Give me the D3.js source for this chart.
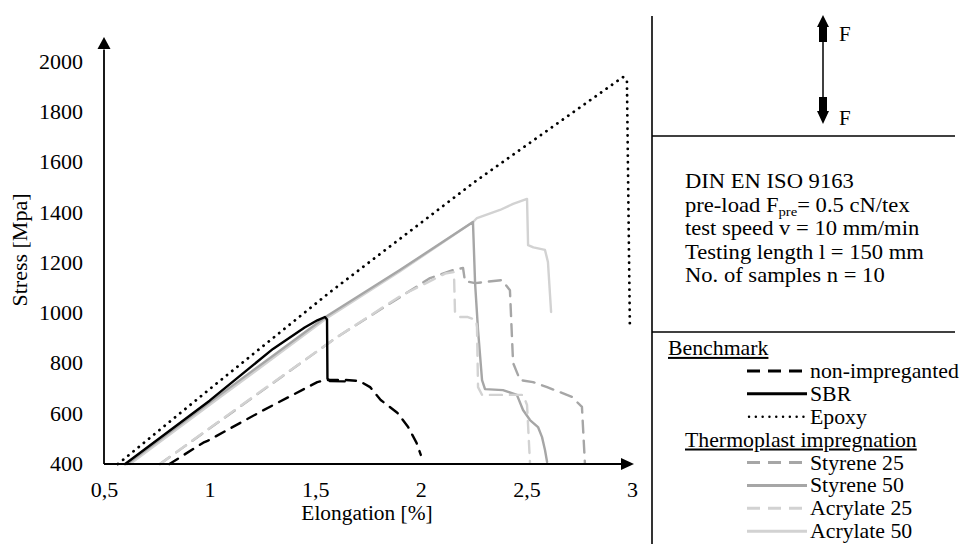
<!DOCTYPE html>
<html><head><meta charset="utf-8">
<script src="https://cdn.jsdelivr.net/npm/d3@7"></script>
<style>
html,body{margin:0;padding:0;background:#fff;}
svg{display:block;font-family:"Liberation Serif","Times New Roman",serif;}
</style></head>
<body>
<svg id="chart" width="974" height="544"></svg>
<script>
// ---------- data ----------
const xTicks = [0.5, 1, 1.5, 2, 2.5, 3];
const xTickLabels = ["0,5", "1", "1,5", "2", "2,5", "3"];
const yTicks = [400, 600, 800, 1000, 1200, 1400, 1600, 1800, 2000];

const nonImpregnated = [[0.81,400],[0.97,485],[0.99,492],[1.25,612],[1.51,726],[1.55,734],[1.64,735],[1.71,730],[1.76,706],[1.81,655],[1.89,603],[1.94,547],[1.98,484],[2.0,436]];
const sbr = [[0.60,400],[1.0,652],[1.3,858],[1.45,943],[1.51,972],[1.546,985],[1.556,975],[1.558,740],[1.57,730],[1.64,729]];
const epoxy = [[0.566,400],[1.0,698],[1.57,1084],[2.257,1524],[2.957,1940],[2.976,1928],[2.99,941]];
const styrene25 = [[0.765,400],[1.2,662],[1.603,905],[2.044,1140],[2.153,1172],[2.20,1180],[2.209,1128],[2.257,1120],[2.384,1132],[2.422,1092],[2.437,802],[2.47,734],[2.531,726],[2.598,706],[2.716,667],[2.763,627],[2.777,404]];
const styrene50 = [[0.609,400],[1.049,675],[1.556,989],[1.901,1172],[2.247,1363],[2.257,1120],[2.271,933],[2.29,734],[2.304,698],[2.389,694],[2.455,675],[2.484,615],[2.517,575],[2.555,547],[2.574,507],[2.588,456],[2.598,408]];
const acrylate25 = [[0.765,400],[1.2,664],[1.603,905],[1.902,1068],[2.115,1158],[2.157,1164],[2.162,1001],[2.186,985],[2.223,985],[2.261,973],[2.266,945],[2.271,706],[2.29,675],[2.484,675],[2.503,635],[2.517,404]];
const acrylate50 = [[0.623,400],[1.06,672],[1.556,981],[1.90,1166],[2.247,1363],[2.266,1379],[2.375,1411],[2.437,1435],[2.503,1455],[2.508,1271],[2.533,1262],[2.588,1252],[2.602,1204],[2.617,1005]];

const seriesNames = ["non-impreganted","SBR","Epoxy","Styrene 25","Styrene 50","Acrylate 25","Acrylate 50"];
const seriesData = [nonImpregnated, sbr, epoxy, styrene25, styrene50, acrylate25, acrylate50];
const seriesColors = ["#000000","#000000","#000000","#a6a6a6","#a6a6a6","#d2d2d2","#d2d2d2"];
const seriesDash = ["10,8","", "0.1,6.6", "12,8", "", "12,8", ""];
const infoLines = ["DIN EN ISO 9163", "pre-load F|pre|= 0.5 cN/tex", "test speed v = 10 mm/min", "Testing length l = 150 mm", "No. of samples n = 10"];

// ---------- layout ----------
const svg = d3.select("#chart");
const x = d3.scaleLinear().domain([0.5, 3]).range([104, 632]);
const y = d3.scaleLinear().domain([400, 2000]).range([464, 62]);

function addText(px, py, str, size, sx, anchor, rot) {
  const g = svg.append("g").attr("transform", `translate(${px},${py})` + (rot ? ` rotate(${rot})` : "") + ` scale(${sx},1)`);
  return g.append("text").attr("font-size", size).attr("text-anchor", anchor || "start").text(str);
}

// axes labels
const tickSx = 1.1;
const yAxis = d3.axisLeft(y).tickValues(yTicks).tickSize(0).tickPadding(21 / tickSx).tickFormat(d3.format("d"));
const gy = svg.append("g").attr("transform", `translate(${x(0.5)},0)`).call(yAxis);
gy.select(".domain").remove();
gy.selectAll("text").attr("font-family", "Liberation Serif").attr("font-size", 20).attr("fill", "#000")
  .attr("transform", `scale(${tickSx},1)`);

const xAxis = d3.axisBottom(x).tickValues(xTicks).tickSize(0).tickPadding(19).tickFormat((d, i) => xTickLabels[i]);
const gx = svg.append("g").attr("transform", `translate(0,${y(400)})`).call(xAxis);
gx.select(".domain").remove();
gx.selectAll("text").attr("font-family", "Liberation Serif").attr("font-size", 20).attr("fill", "#000")
  .attr("transform", `scale(${tickSx},1)`);

// curves
const lineLin = d3.line().x(d => x(d[0])).y(d => y(d[1]));
const drawOrder = [6, 4, 3, 5, 2, 0, 1];
drawOrder.forEach(i => {
  svg.append("path")
    .attr("d", lineLin(seriesData[i]))
    .attr("fill", "none")
    .attr("stroke", seriesColors[i])
    .attr("stroke-width", i === 2 ? 2.8 : 2.4)
    .attr("stroke-linecap", "round")
    .attr("stroke-linejoin", "round")
    .attr("stroke-dasharray", seriesDash[i] || null);
});

// axis lines with arrows
svg.append("line").attr("x1", x(0.5)).attr("y1", y(400)).attr("x2", x(0.5)).attr("y2", y(2050))
  .attr("stroke", "#000").attr("stroke-width", 1.8);
svg.append("path").attr("d", `M${x(0.5)},${y(2100)} L${x(0.5)-6.5},${y(2100)+12} L${x(0.5)+6.5},${y(2100)+12} Z`).attr("fill", "#000");
svg.append("line").attr("x1", x(0.5)).attr("y1", y(400)).attr("x2", x(2.95)).attr("y2", y(400))
  .attr("stroke", "#000").attr("stroke-width", 1.8);
svg.append("path").attr("d", `M${x(3)+2},${y(400)} L${x(3)-11},${y(400)-6} L${x(3)-11},${y(400)+6} Z`).attr("fill", "#000");

// axis titles
addText(367, 520, "Elongation [%]", 20, 1.07, "middle");
addText(27, 250, "Stress [Mpa]", 20, 1.1, "middle", -90);

// right panel frame
svg.append("line").attr("x1", 652).attr("y1", 16).attr("x2", 652).attr("y2", 544).attr("stroke", "#000").attr("stroke-width", 1.6);
svg.append("line").attr("x1", 652).attr("y1", 136).attr("x2", 955).attr("y2", 136).attr("stroke", "#000").attr("stroke-width", 1.6);
svg.append("line").attr("x1", 652).attr("y1", 332).attr("x2", 955).attr("y2", 332).attr("stroke", "#000").attr("stroke-width", 1.6);

// force arrows
const ax = 823;
svg.append("line").attr("x1", ax).attr("y1", 40).attr("x2", ax).attr("y2", 100).attr("stroke", "#000").attr("stroke-width", 1.5);
svg.append("path").attr("d", `M${ax},15 L${ax-6},27 L${ax-4},27 L${ax-4},42 L${ax+4},42 L${ax+4},27 L${ax+6},27 Z`).attr("fill", "#000");
svg.append("path").attr("d", `M${ax},124 L${ax-6},111 L${ax-4},111 L${ax-4},97 L${ax+4},97 L${ax+4},111 L${ax+6},111 Z`).attr("fill", "#000");
addText(839, 41, "F", 20, 1.05);
addText(839, 125, "F", 20, 1.05);

// info text
infoLines.forEach((s, i) => {
  const parts = s.split("|");
  const t = addText(685, 188 + i * 23.5, parts[0], 20, 1.13);
  if (parts.length > 1) {
    t.append("tspan").attr("font-size", 13).attr("dy", 4).text(parts[1]);
    t.append("tspan").attr("dy", -4).text(parts[2]);
  }
});

// legend
const legY0 = 355, legStep = 22.9;
addText(668, legY0, "Benchmark", 20, 1.09).attr("text-decoration", "underline");
addText(685, legY0 + 4 * legStep, "Thermoplast impregnation", 20, 1.09).attr("text-decoration", "underline");
const legRows = [1, 2, 3, 5, 6, 7, 8];
seriesNames.forEach((n, i) => {
  const yy = legY0 + legRows[i] * legStep;
  svg.append("line").attr("x1", i === 2 ? 749 : 747).attr("x2", 807).attr("y1", yy - 7).attr("y2", yy - 7)
    .attr("stroke", seriesColors[i]).attr("stroke-width", i === 2 ? 2.4 : 3)
    .attr("stroke-linecap", i === 2 ? "round" : "butt")
    .attr("stroke-dasharray", i === 2 ? "0.1,6.7" : (seriesDash[i] ? "13,8" : null));
  addText(810, yy, n, 20, 1.09);
});
</script>
</body></html>
